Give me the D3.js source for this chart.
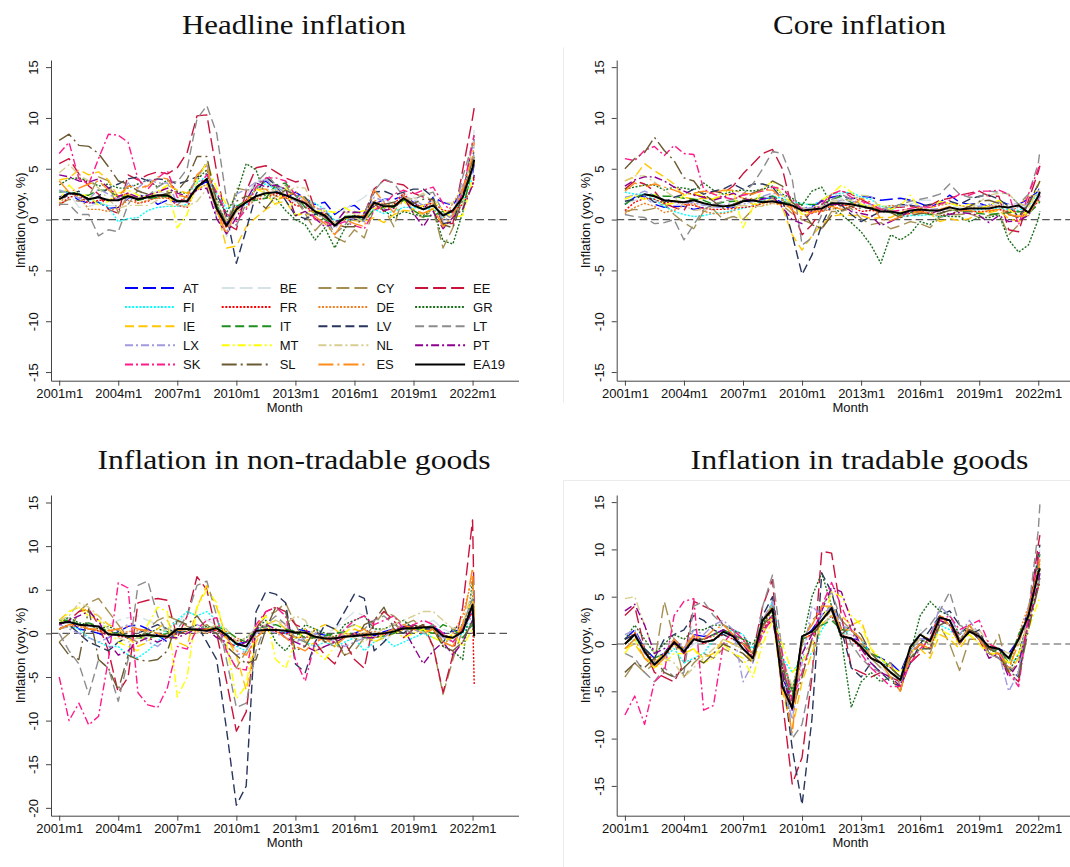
<!DOCTYPE html>
<html>
<head>
<meta charset="utf-8">
<script src="https://cdn.jsdelivr.net/npm/d3@7"></script>
<style>
  body { margin: 0; background: #fff; }
  svg { display: block; }
</style>
</head>
<body>
<svg id="chart" width="1070" height="867"></svg>
<script>
// ---- Categories, styles and time axis ----
const countries = ["AT","BE","CY","EE","FI","FR","DE","GR","IE","IT","LV","LT","LX","MT","NL","PT","SK","SL","ES","EA19"];
const colors = ["#0000ff","#d5e2e8","#a68f52","#c8143c","#00ffff","#ff0000","#ee8020","#1a6e1a","#ffc800","#1f8f1f",
                "#28365e","#8c8c8c","#a09ae0","#ffff00","#d6cd8e","#8e008e","#ff1a8c","#6b5a32","#ff8c1a","#000000"];
const dashes = ["13,5","13,5","13,5","13,5","2,1.6","2,1.6","2,1.6","2,1.6","9,4.5","9,4.5",
                "9,4.5","9,4.5","8,3,2,3","8,3,2,3","8,3,2,3","8,3,2,3","8,3,2,3","15,4,2,4","15,4,2,4",null];
const months = ["2001m1","2001m7","2002m1","2002m7","2003m1","2003m7","2004m1","2004m7","2005m1","2005m7","2006m1","2006m7",
  "2007m1","2007m7","2008m1","2008m7","2009m1","2009m7","2010m1","2010m7","2011m1","2011m7","2012m1","2012m7",
  "2013m1","2013m7","2014m1","2014m7","2015m1","2015m7","2016m1","2016m7","2017m1","2017m7","2018m1","2018m7",
  "2019m1","2019m7","2020m1","2020m7","2021m1","2021m7","2022m1","2022m2"];
const xTickLabels = ["2001m1","2004m1","2007m1","2010m1","2013m1","2016m1","2019m1","2022m1"];

// ---- Headline inflation (yoy, %) ----
const h_AT = [2.2,2.6, 1.9,1.6, 1.7,1.1, 1.2,2.1, 2.4,2.3, 1.5,1.9, 1.7,2.0, 3.1,3.8, 1.2,-0.4, 1.2,1.8, 3.0,3.8, 2.9,2.1, 2.7,2.1, 1.5,1.7, 0.5,1.2, 1.4,0.6, 1.5,2.0, 2.0,2.3, 1.7,1.0, 2.2,1.7, 1.4,2.9, 4.5,5.5];
const h_BE = [2.0,2.6, 1.2,1.3, 1.6,1.4, 1.3,2.2, 2.1,2.5, 2.8,2.5, 1.7,1.3, 3.5,5.9, 1.6,-1.7, 0.8,2.4, 3.7,4.0, 3.3,2.6, 1.5,1.2, 1.1,0.6, -0.5,1.0, 1.6,2.2, 3.1,2.0, 1.6,2.6, 2.2,1.3, 1.4,0.9, 0.6,2.6, 7.5,8.8];
const h_CY = [1.5,2.0, 1.8,2.2, 4.2,3.8, 0.6,2.5, 2.1,2.2, 2.1,2.8, 1.4,2.4, 4.1,5.6, 1.3,-0.8, 3.1,2.9, 3.0,3.8, 3.1,3.4, 2.0,0.6, -1.1,0.0, -1.7,-2.2, -1.0,-1.8, 1.1,1.2, -0.7,2.4, 0.6,0.2, 1.0,-2.8, -0.8,3.1, 5.0,5.8];
const h_EE = [5.5,6.0, 4.5,3.3, 2.5,1.0, 0.6,4.4, 3.9,4.4, 4.7,4.5, 5.1,6.6, 10.2,10.3, 4.7,-0.4, -1.0,2.8, 5.1,5.3, 4.7,4.1, 3.7,3.9, 0.9,0.2, -0.5,0.2, 0.1,0.6, 3.0,3.9, 3.6,3.4, 2.6,2.2, 1.8,-0.4, -0.4,4.9, 10.0,11.0];
const h_FI = [2.9,2.6, 2.6,2.0, 1.7,1.3, -0.2,0.1, 0.2,0.9, 1.2,1.3, 1.3,1.5, 3.6,4.3, 2.5,1.1, 1.4,1.4, 3.2,3.5, 3.0,3.0, 2.4,2.0, 1.6,1.0, -0.1,0.0, 0.0,0.5, 1.0,0.6, 0.8,1.2, 1.2,1.0, 1.1,0.2, 0.9,1.8, 4.1,4.4];
const h_FR = [1.4,2.2, 2.4,1.6, 1.9,1.9, 2.2,2.6, 1.6,1.8, 2.3,2.2, 1.4,1.2, 3.2,4.0, 0.8,-0.8, 1.2,1.9, 2.0,2.1, 2.6,2.2, 1.4,1.2, 0.8,0.6, -0.4,0.2, 0.3,0.4, 1.6,0.8, 1.5,2.6, 1.4,1.3, 1.7,0.9, 0.8,1.5, 3.3,4.2];
const h_DE = [1.6,2.6, 2.3,1.0, 1.0,0.8, 1.2,1.9, 1.6,1.9, 2.1,2.1, 1.8,2.0, 2.9,3.5, 0.9,-0.7, 0.8,1.2, 2.0,2.6, 2.3,2.1, 1.9,1.9, 1.2,0.8, -0.5,0.1, 0.4,0.4, 1.9,1.5, 1.4,2.1, 1.7,1.1, 1.6,0.0, 1.6,3.1, 5.1,5.5];
const h_GR = [3.4,4.0, 4.1,3.8, 3.3,3.5, 3.1,3.1, 3.5,3.9, 3.2,3.9, 2.7,2.6, 3.9,4.9, 2.0,0.7, 2.4,5.5, 4.9,2.1, 2.1,0.9, 0.0,-0.5, -2.0,-0.8, -2.8,-0.9, 0.4,0.2, 1.5,0.9, 0.2,0.8, 0.5,0.4, 1.1,-2.1, -2.4,0.7, 5.5,6.3];
const h_IE = [3.9,4.1, 4.9,4.4, 4.7,3.9, 2.2,2.5, 1.9,2.2, 2.5,3.4, 2.9,2.6, 3.0,3.5, 1.1,-2.8, -2.6,-0.7, 0.2,1.0, 1.6,1.8, 0.4,0.6, 0.3,0.5, -0.5,0.2, -0.1,-0.2, 0.2,-0.3, 0.5,0.9, 0.8,0.5, 1.1,-0.6, -0.1,2.2, 5.0,5.7];
const h_IT = [2.7,2.8, 2.4,2.4, 2.9,2.9, 2.2,2.3, 1.9,2.1, 2.2,2.3, 1.9,1.7, 3.1,4.0, 1.4,-0.1, 1.3,1.8, 1.9,2.1, 3.4,3.6, 2.4,1.2, 0.6,0.0, -0.5,0.3, 0.4,-0.2, 1.0,1.2, 1.2,1.9, 0.9,0.3, 0.4,0.8, 0.7,1.0, 5.1,6.2];
const h_LV = [2.0,2.4, 2.8,1.8, 2.3,3.1, 3.5,4.0, 4.2,3.8, 4.0,3.9, 3.5,3.8, 4.2,4.5, 2.5,0.5, -4.3,-1.0, 2.5,4.2, 3.4,1.9, 0.4,0.1, 0.5,0.8, -0.2,0.0, 0.0,0.1, 2.7,2.8, 2.4,2.7, 3.0,3.0, 2.2,-0.4, -0.2,2.4, 7.4,7.9];
const h_LT = [1.5,1.5, 0.5,0.5, -1.6,-1.0, -1.2,1.5, 2.9,2.3, 3.2,3.8, 3.7,5.0, 9.9,11.2, 8.5,2.0, -0.6,1.6, 3.6,4.6, 3.4,3.0, 2.4,0.7, 0.3,0.4, -1.4,-0.6, 0.8,0.6, 2.8,4.0, 3.6,2.2, 2.0,2.4, 2.7,0.7, 0.0,4.2, 7.5,8.3];
const h_LX = [2.9,2.6, 2.1,2.0, 3.0,2.5, 2.0,3.6, 3.1,4.0, 3.6,3.6, 1.6,1.9, 4.2,5.6, 0.0,-1.3, 2.5,3.0, 3.7,3.9, 3.2,2.7, 1.8,1.8, 1.0,1.1, -0.9,0.3, 0.0,-0.2, 2.2,1.8, 1.3,2.2, 1.9,1.4, 1.9,-0.2, 0.5,3.4, 4.6,7.8];
const h_MT = [1.9,3.4, 2.4,2.4, 1.4,1.8, 2.6,2.9, 2.4,2.2, 2.8,3.4, -0.8,0.5, 3.9,5.6, 3.1,1.5, 1.0,1.6, 3.0,2.6, 1.4,3.2, 0.4,0.8, 0.8,0.9, 0.7,1.2, 0.6,0.9, 1.1,1.2, 1.4,1.8, 1.0,1.4, 1.8,0.9, 0.2,0.4, 4.1,4.2];
const h_NL = [4.6,5.4, 4.4,3.8, 3.1,2.0, 1.1,1.4, 1.4,1.4, 1.9,1.5, 1.4,1.3, 1.8,3.0, 1.9,-0.1, 0.7,1.7, 2.0,3.0, 2.9,2.6, 3.2,3.1, 0.8,0.4, -0.4,0.8, 0.2,-0.2, 1.6,1.5, 1.3,2.1, 2.0,2.6, 1.7,1.7, 1.6,1.4, 7.6,7.3];
const h_PT = [4.4,4.2, 3.8,3.7, 4.0,3.1, 2.3,2.6, 2.2,2.4, 2.7,3.1, 2.6,2.3, 2.9,3.1, 0.1,-1.4, 0.2,1.9, 3.6,3.2, 3.4,3.0, 0.4,0.8, 0.1,-0.7, -0.4,0.8, 0.7,0.7, 1.3,0.9, 1.1,2.2, 0.6,-0.7, 0.8,-0.9, 0.2,1.0, 3.4,4.4];
const h_SK = [6.5,7.6, 4.0,3.5, 6.0,8.4, 8.3,7.6, 4.0,3.0, 4.1,4.8, 2.2,1.7, 3.2,4.4, 2.7,0.6, -0.2,1.0, 3.2,4.1, 4.1,3.8, 2.4,1.6, 0.0,-0.2, -0.6,-0.2, -0.6,-0.9, 0.9,1.5, 2.5,2.9, 2.5,2.9, 3.2,1.6, 0.7,2.6, 7.7,8.3];
const h_SL = [7.8,8.4, 7.3,7.2, 6.5,5.2, 3.8,3.5, 2.8,2.5, 2.3,2.6, 2.8,4.0, 6.2,6.2, 1.7,-0.6, 1.8,2.3, 2.0,1.1, 2.3,2.9, 2.4,2.2, 0.8,0.3, -0.5,-0.7, -0.7,0.3, 1.5,1.5, 1.7,2.1, 1.6,2.0, 2.0,-0.5, -0.8,2.0, 6.0,7.0];
const h_ES = [3.8,2.7, 3.1,3.5, 3.8,2.9, 2.3,3.3, 3.1,3.3, 4.2,4.0, 2.4,2.2, 4.4,5.3, 0.8,-1.4, 1.1,1.8, 3.0,3.0, 2.0,2.2, 2.8,1.9, 0.3,-0.4, -1.5,0.0, -0.4,-0.7, 2.9,1.7, 0.7,2.3, 1.0,0.6, 1.1,-0.7, 0.4,2.9, 6.2,7.6];
const h_EA19 = [2.0,2.6, 2.5,2.0, 2.2,1.9, 1.9,2.3, 2.0,2.2, 2.4,2.4, 1.8,1.8, 3.2,4.0, 1.1,-0.6, 1.0,1.7, 2.3,2.6, 2.7,2.4, 2.0,1.6, 0.8,0.4, -0.6,0.2, 0.3,0.2, 1.7,1.3, 1.3,2.1, 1.4,1.0, 1.4,0.4, 0.9,2.2, 5.1,5.9];

// ---- Core inflation (yoy, %) ----
const c_AT = [1.5,2.2, 2.3,1.5, 1.2,1.3, 1.3,1.0, 1.2,1.3, 1.2,1.2, 1.8,1.8, 2.1,2.1, 1.7,1.6, 1.1,1.3, 1.8,2.2, 2.4,2.0, 2.3,2.2, 1.9,2.0, 2.1,1.9, 1.6,1.2, 1.7,2.4, 1.7,1.5, 1.6,1.3, 1.8,1.5, 1.5,2.0, 2.8,3.2];
const c_BE = [1.6,1.9, 2.2,1.6, 1.5,1.4, 1.7,1.6, 1.4,1.3, 1.2,1.3, 1.6,1.7, 2.0,2.4, 2.0,1.7, 1.2,1.0, 1.4,1.8, 2.1,1.6, 1.4,1.4, 1.3,1.4, 1.3,1.5, 1.9,1.9, 1.7,1.4, 1.2,1.3, 1.4,1.3, 1.6,1.5, 1.5,1.2, 2.6,3.0];
const c_CY = [0.8,1.0, 0.9,1.1, 1.6,0.5, -0.3,-0.9, 0.8,1.0, 0.0,0.3, 0.0,1.0, 1.8,2.1, 1.4,0.6, 0.0,-0.4, -0.9,0.8, 0.8,1.1, 0.1,-0.5, -0.3,-0.9, -0.6,-0.2, -0.4,-0.8, 0.2,0.5, 0.5,0.6, 0.2,0.4, 0.6,-1.5, -0.5,0.8, 2.0,2.5];
const c_EE = [3.0,3.8, 3.5,2.8, 1.6,1.2, 0.9,2.5, 2.2,2.8, 2.6,3.3, 4.5,5.5, 6.5,6.9, 5.0,1.0, -1.5,-0.5, 1.0,2.5, 2.8,2.5, 2.0,1.5, 1.0,1.2, 1.2,1.3, 1.1,1.4, 1.9,2.1, 2.4,2.6, 2.8,2.3, 2.3,-1.0, -1.2,1.9, 4.7,5.3];
const c_FI = [2.7,2.5, 2.5,2.0, 1.3,0.8, 0.5,0.3, 0.4,0.6, 0.7,0.9, 1.1,1.4, 1.9,2.3, 2.1,1.7, 1.6,1.4, 1.9,2.5, 2.6,2.7, 2.2,2.0, 1.3,1.2, 0.3,0.4, 0.4,0.5, 0.3,0.5, 0.9,0.8, 1.0,1.1, 1.1,1.0, 0.9,1.4, 2.6,2.7];
const c_FR = [0.9,1.7, 2.1,2.0, 1.6,1.8, 1.5,1.4, 1.1,1.0, 1.0,1.1, 1.2,1.3, 1.6,1.8, 1.4,1.3, 0.9,0.8, 0.8,1.4, 1.5,1.3, 0.8,0.9, 0.8,0.8, 0.6,0.6, 0.9,0.6, 0.4,0.5, 0.9,0.8, 0.8,0.8, 1.0,0.8, 0.8,0.8, 1.8,2.3];
const c_DE = [0.6,1.2, 1.6,1.3, 0.7,0.9, 1.4,1.6, 0.8,0.6, 0.6,0.8, 1.9,2.1, 1.4,1.6, 1.4,1.2, 0.8,0.7, 0.8,1.0, 1.3,1.5, 1.3,1.2, 1.0,1.4, 1.3,1.4, 1.1,1.2, 1.4,1.6, 1.4,1.2, 1.2,1.3, 1.4,0.5, 1.4,2.3, 2.4,2.8];
const c_GR = [3.0,3.2, 3.4,3.4, 2.9,3.2, 3.1,2.9, 3.6,2.9, 2.5,2.8, 2.9,2.8, 3.0,3.3, 2.5,2.1, 1.4,2.8, 3.2,1.5, 0.5,-0.3, -1.2,-2.5, -4.3,-1.5, -2.0,-1.4, -0.2,-0.5, 0.4,0.3, 0.3,-0.2, 0.2,0.2, 0.5,-2.0, -3.2,-2.5, 0.0,0.8];
const c_IE = [3.8,4.2, 5.5,4.8, 4.2,3.5, 2.2,2.0, 2.1,2.0, 2.4,2.5, 2.1,1.5, 1.5,2.2, 1.2,-1.5, -3.0,-1.6, -0.5,0.3, 0.5,0.4, 0.4,0.1, 0.2,0.2, 0.7,0.9, 0.6,0.6, -0.2,0.1, -0.1,0.1, 0.7,0.7, 0.9,0.1, -0.2,0.8, 2.0,2.2];
const c_IT = [1.5,2.2, 2.5,2.4, 2.3,2.3, 2.1,2.0, 1.9,1.5, 1.7,1.8, 1.9,2.0, 2.2,2.3, 1.8,1.5, 1.5,1.5, 1.5,2.0, 2.3,1.7, 1.4,1.2, 0.9,0.7, 0.4,0.7, 0.7,0.5, 0.6,1.0, 0.8,0.8, 0.6,0.5, 0.6,0.7, 0.8,0.6, 1.5,1.8];
const c_LV = [1.8,2.0, 2.5,1.7, 1.7,2.2, 2.5,3.0, 2.5,2.8, 3.0,3.5, 3.0,3.5, 3.5,3.2, 2.0,-1.5, -5.4,-3.5, -0.5,1.5, 1.4,0.5, -0.2,0.3, 0.8,1.1, 1.5,1.4, 1.3,1.5, 1.6,1.8, 1.5,2.0, 2.3,2.4, 2.0,1.3, 0.3,1.5, 3.5,3.9];
const c_LT = [0.5,0.3, 0.2,-0.4, -0.3,0.0, -2.0,-0.5, 1.0,1.5, 1.8,2.0, 2.5,3.5, 5.0,6.7, 6.5,4.0, -2.5,-1.8, 0.5,2.0, 2.5,2.0, 1.5,1.0, 1.0,1.2, 1.5,1.8, 2.0,2.2, 2.5,3.5, 2.5,2.2, 2.2,2.8, 2.7,2.5, 1.5,2.5, 5.5,6.8];
const c_LX = [2.2,2.4, 2.8,2.4, 1.9,1.8, 1.6,1.7, 1.4,1.5, 1.4,1.6, 1.5,1.8, 2.3,2.6, 2.4,1.7, 1.0,1.2, 1.3,1.6, 1.9,1.8, 1.6,1.5, 1.2,1.0, 1.3,1.5, 1.3,1.0, 1.1,1.0, 1.0,0.9, 1.3,1.5, 1.8,1.0, 1.2,1.6, 2.0,2.3];
const c_MT = [2.0,2.4, 2.0,2.5, 1.5,1.6, 2.4,2.6, 2.3,2.0, 2.8,2.9, -0.8,1.2, 3.0,3.8, 2.4,1.6, 0.5,0.9, 1.9,2.5, 3.4,2.7, 1.5,1.3, 1.5,1.0, 1.4,2.4, 1.0,0.9, 1.8,1.6, 1.3,1.5, 1.1,1.4, 1.9,1.0, 0.4,0.8, 3.5,3.8];
const c_NL = [3.8,4.3, 4.3,3.7, 2.9,2.2, 1.4,0.9, 1.0,1.3, 1.4,1.2, 1.4,1.3, 1.3,1.6, 1.8,1.7, 1.2,0.8, 1.3,1.8, 1.9,1.9, 2.4,2.3, 1.0,0.9, 0.9,1.1, 0.7,0.6, 0.4,1.0, 0.9,1.1, 1.7,2.4, 2.6,2.5, 1.6,1.3, 2.9,3.0];
const c_PT = [3.3,3.9, 4.2,4.2, 3.8,3.2, 2.8,2.4, 2.2,1.9, 2.2,2.6, 2.1,1.8, 2.0,2.3, 1.2,0.0, -0.4,0.9, 1.9,1.5, 1.5,0.8, 0.6,0.4, -0.6,-0.2, 0.3,0.8, 0.8,0.6, 0.9,0.5, 0.7,0.6, 0.4,-0.3, 0.4,-0.2, -0.1,0.4, 2.1,2.4];
const c_SK = [6.0,5.8, 6.8,7.2, 6.3,7.3, 6.5,6.4, 3.0,2.5, 2.2,2.0, 2.4,2.6, 2.8,3.2, 3.0,2.0, 1.0,0.6, 1.5,2.5, 2.9,2.2, 1.8,1.5, 1.0,0.8, 0.9,1.1, 1.3,1.2, 1.5,1.9, 2.5,2.4, 2.8,2.8, 2.9,2.5, -0.5,2.5, 5.0,5.5];
const c_SL = [5.0,6.0, 6.6,8.1, 6.8,5.8, 4.1,3.8, 2.5,1.8, 1.1,1.5, 1.9,2.6, 3.0,3.8, 3.3,1.7, 0.9,-0.5, -0.9,0.4, 0.9,1.3, 1.1,1.2, 0.8,0.7, 0.2,0.4, 0.6,0.7, 0.6,0.9, 0.9,1.3, 1.8,1.9, 1.6,0.5, 0.2,1.5, 3.4,3.8];
const c_ES = [2.8,3.6, 3.2,3.5, 3.2,2.9, 2.5,2.6, 2.8,2.6, 2.9,2.9, 2.6,2.5, 2.9,2.9, 2.0,0.9, 0.2,0.7, 1.0,1.3, 1.0,1.3, 2.1,1.7, 0.0,-0.1, 0.3,0.6, 0.8,0.6, 1.0,1.3, 0.9,0.9, 0.7,0.9, 1.0,0.5, 0.3,0.4, 2.2,3.0];
const c_EA19 = [null,null, 2.5,2.3, 1.9,1.8, 1.7,1.9, 1.6,1.4, 1.3,1.4, 1.8,1.9, 1.7,1.8, 1.6,1.4, 0.9,1.0, 1.1,1.6, 1.6,1.5, 1.3,1.1, 0.8,0.8, 0.6,0.9, 1.0,0.9, 0.9,1.2, 1.0,1.1, 1.1,1.1, 1.3,1.2, 1.4,0.7, 2.3,2.7];

// ---- Inflation in non-tradable goods (yoy, %) ----
const n_AT = [1.0,1.5, 0.5,0.3, 0.0,-0.5, 0.2,0.8, 1.0,0.5, -0.2,-1.0, 0.2,0.5, 0.5,0.3, 0.4,-0.5, -1.2,-1.0, 0.5,0.6, 0.3,0.0, 0.5,0.3, 0.0,-0.2, -0.5,-0.3, 0.0,0.5, -0.3,0.2, 0.5,0.8, 0.9,0.5, 0.8,0.0, 0.2,0.5, 2.5,0.5];
const n_BE = [1.5,1.8, 1.0,0.5, 0.8,1.0, 1.5,1.8, 2.0,1.5, 1.0,0.5, 1.0,2.5, 2.0,1.5, 1.0,-0.5, -2.0,-1.0, 1.0,1.2, 1.0,0.8, 0.0,-0.5, 0.5,0.0, 0.5,1.5, 2.5,2.0, 0.5,-1.0, 0.0,0.5, 0.5,1.0, 1.5,0.5, 0.0,1.0, 4.0,1.0];
const n_CY = [-1.0,0.0, 2.5,3.5, 4.0,2.5, 1.0,-0.5, -1.0,0.5, 1.5,2.0, 1.5,0.8, 0.5,1.0, 0.0,-2.0, -4.0,-2.0, 0.5,2.0, 2.5,3.5, 1.0,-1.0, -2.0,-1.5, -1.0,-2.5, -2.0,-0.5, 1.0,2.5, 2.0,1.0, 1.5,0.5, -1.5,-7.0, -3.0,0.5, 3.0,1.0];
const n_EE = [1.0,1.5, 2.5,2.8, 1.0,-2.0, -6.8,-5.0, 3.5,3.8, 4.0,3.8, -0.5,2.0, 6.5,5.0, 0.0,-5.5, -11.2,-9.0, 0.5,2.5, 3.0,2.5, 1.0,0.5, -1.0,-2.5, -3.5,-1.0, -3.0,-4.0, 1.5,2.5, 1.5,-0.5, 0.5,1.0, -1.5,-6.8, -2.5,3.0, 13.0,3.0];
const n_FI = [0.5,0.8, 0.5,-0.5, -1.0,-1.5, -1.5,-2.5, -2.8,-2.0, -1.0,0.5, 1.5,2.5, 2.0,2.5, 1.5,0.0, -1.5,-2.0, 0.5,0.3, 0.5,0.0, -0.5,-1.0, -1.5,-1.0, -1.5,-1.0, -0.5,-2.0, -1.0,-0.5, -1.5,-1.0, -0.5,0.0, -0.5,-1.0, -0.5,0.0, 1.5,0.0];
const n_FR = [0.5,1.0, 1.0,0.5, 0.3,0.0, -0.3,-0.5, -0.3,-0.2, -0.3,-0.2, 0.0,0.2, 0.5,0.5, 0.3,-0.3, -0.8,-1.0, 0.2,0.3, 0.2,0.0, -0.5,-0.4, -0.5,-0.6, -0.5,-0.3, -0.2,-0.3, -0.5,-0.2, 0.3,0.8, 0.8,0.7, 0.6,-0.2, -0.5,0.5, 2.5,-5.8];
const n_DE = [0.5,0.8, 0.8,0.5, 0.3,-0.2, 0.0,0.2, 0.3,0.3, 0.0,-0.3, 0.5,0.6, 0.2,0.0, 0.5,0.2, -0.5,-1.0, 0.2,0.5, 0.5,0.3, 0.2,0.0, -0.3,-0.5, -0.3,0.0, -0.2,0.0, 0.2,0.0, 0.2,0.5, 0.5,0.8, 0.6,-1.5, 0.0,2.0, 6.5,1.0];
const n_GR = [1.5,1.8, 1.2,1.0, 0.5,0.8, 0.3,-0.5, -0.2,0.0, 0.5,0.2, 0.0,0.3, 0.5,0.8, 0.5,-0.5, -1.0,-0.5, 0.5,1.5, -1.0,-2.0, -0.5,1.0, 0.5,0.0, -0.5,1.0, 1.5,2.0, 0.5,0.5, 1.0,1.5, 0.5,0.5, 1.0,-1.5, -2.0,-3.0, 6.0,2.0];
const n_IE = [1.5,2.5, 3.0,2.5, 2.0,1.0, 0.5,-0.5, -1.5,-1.0, 0.5,1.5, -1.0,-1.5, 3.0,5.5, 3.0,-0.5, -2.5,-6.5, -1.0,1.0, 1.5,0.5, -0.5,-1.0, 0.5,1.0, 0.5,-0.5, 0.5,0.0, -1.0,-0.5, 0.0,0.5, 1.0,0.5, 0.0,-1.0, -0.5,1.0, 4.0,1.5];
const n_IT = [1.5,1.5, 1.0,1.2, 0.8,0.2, 0.0,-0.3, -0.5,-0.5, -0.3,0.0, 0.3,0.3, 0.5,0.6, 0.8,0.3, -0.5,-1.0, 0.5,0.8, 1.0,0.5, 0.2,-0.5, -0.5,-0.3, 0.0,0.2, -0.2,-0.5, -0.5,-0.3, 0.0,0.5, 0.5,0.3, 0.0,1.0, 0.5,-0.5, 1.0,0.5];
const n_LV = [0.5,1.0, 0.0,-1.0, -1.5,-2.0, -1.0,-0.5, 0.0,0.5, 1.0,0.5, 0.0,0.5, 1.0,-1.0, -3.0,-11.0, -19.7,-17.5, 2.5,4.8, 4.5,3.5, -3.5,-4.5, -1.0,1.0, 0.5,2.5, 4.5,4.0, -2.0,-1.0, 0.5,0.0, 1.0,0.5, 0.5,-1.0, 0.5,1.0, 3.0,1.0];
const n_LT = [0.0,-2.0, -3.5,-7.0, -3.0,-4.0, -7.8,-3.0, 5.5,6.0, 2.0,0.0, 0.5,2.0, 5.5,6.0, 2.0,-3.0, -8.5,-8.0, -2.0,1.0, 2.0,1.0, -0.5,-1.0, 0.0,-1.0, -1.5,0.5, 1.0,0.5, 1.5,2.0, 1.0,0.5, 0.0,0.5, 1.0,-1.0, -1.5,1.0, 4.0,2.0];
const n_LX = [1.0,0.5, 0.0,-0.5, -1.0,-0.5, 0.5,1.0, 0.5,-1.0, -1.5,-0.5, 0.0,0.5, 1.0,0.5, 0.0,-1.5, -2.5,-2.0, 0.0,0.5, 0.0,-0.5, -1.0,-0.5, 0.0,-0.5, -1.0,-1.5, -1.0,-0.5, 0.0,-0.5, 0.5,1.0, 0.5,0.0, 0.5,-0.5, -1.0,0.5, 2.0,0.5];
const n_MT = [1.0,2.5, 3.0,2.0, 1.5,0.5, -1.0,-1.5, -2.0,1.0, 3.0,2.5, -7.3,-5.0, 3.0,5.0, 3.5,-1.0, -7.5,-6.0, 1.0,2.0, -3.0,-4.0, -1.0,0.5, -2.0,-3.0, -1.5,0.0, 1.0,0.5, -1.0,0.0, 0.5,-0.5, 0.0,0.5, -0.5,-1.0, 0.0,-1.5, 0.5,0.0];
const n_NL = [1.5,2.0, 3.5,3.0, 2.0,0.5, -0.5,-1.0, -0.5,-0.3, 0.0,0.5, 0.5,0.3, 0.0,0.5, 1.0,0.5, -1.0,-0.5, 0.5,1.0, 1.5,1.0, 2.0,1.5, -0.5,-1.0, -0.5,0.0, -0.5,-1.0, 0.0,0.5, 1.0,1.5, 2.0,2.5, 2.5,1.5, 0.5,1.0, 5.0,2.0];
const n_PT = [1.0,1.5, 2.0,2.5, 1.5,-1.0, -2.5,-2.0, -1.0,-0.5, -1.0,-0.5, -0.5,0.0, 0.5,0.5, -0.5,-1.0, -1.5,-1.0, 0.5,1.0, 0.5,-0.5, -1.0,-1.5, -2.0,-1.5, -1.0,-0.5, 0.0,-0.5, -0.5,0.0, 0.5,0.5, -1.5,-3.5, -2.0,-1.0, -2.5,-1.0, 1.5,0.5];
const n_SK = [-5.0,-10.0, -8.0,-10.5, -9.5,-3.0, 5.8,5.2, -6.8,-8.2, -8.5,-6.2, -1.5,-1.8, 0.5,1.5, 1.8,-2.0, -4.0,-4.2, 1.0,2.5, 3.0,2.0, -3.0,-5.5, -1.0,-0.5, -1.0,0.5, 1.5,2.0, 1.0,1.5, 2.0,0.5, 1.0,1.5, 1.0,0.0, -1.0,0.5, 3.0,1.0];
const n_SL = [-1.0,-2.5, -3.0,2.8, -3.0,-4.0, -6.5,-2.5, -3.0,-3.2, -3.0,-2.0, 1.5,1.0, 2.0,0.5, 0.0,-1.5, -2.5,-3.5, -3.0,0.5, 3.0,2.5, -2.0,-1.5, 0.5,-1.0, -0.5,-2.5, -1.0,1.0, 1.5,3.0, 0.5,0.0, 0.5,1.0, 0.5,-1.5, -2.0,-1.0, 1.5,-0.5];
const n_ES = [0.5,1.0, 1.0,0.5, 0.5,0.3, 0.5,0.8, 0.5,0.3, 0.0,-0.5, 0.3,0.5, 0.3,0.5, 0.5,-0.5, -2.0,-2.5, -0.5,0.5, 0.3,-0.5, -1.5,-2.0, -1.0,-0.5, -1.5,-0.5, 0.0,0.5, -0.5,0.0, 0.5,1.0, 0.5,0.0, 0.5,-1.0, -1.5,1.0, 7.5,2.0];
const n_EA19 = [1.2,1.3, 1.0,0.9, 0.8,-0.1, -0.2,-0.3, -0.3,-0.2, -0.3,-0.4, 0.5,0.5, 0.4,0.3, 0.6,-0.2, -1.2,-1.5, 0.3,0.4, 0.4,0.3, 0.1,0.1, -0.4,-0.6, -0.6,-0.4, -0.3,-0.2, -0.1,0.0, 0.2,0.6, 0.6,0.7, 0.7,-0.3, -0.5,0.2, 3.3,-0.3];

// ---- Inflation in tradable goods (yoy, %) ----
const t_AT = [0.5,1.5, -0.5,-1.5, -1.0,0.5, -0.5,1.0, 0.8,1.0, 1.5,1.0, 0.0,-1.0, 2.0,3.0, -3.5,-6.0, 0.5,1.5, 3.0,4.0, 1.0,0.5, 0.5,-1.0, -1.5,-2.0, -3.0,-0.5, 0.5,0.5, 2.5,2.5, 0.5,1.5, 1.0,-0.5, -0.5,-1.0, 0.5,3.5, 7.0,7.8];
const t_BE = [-0.5,0.5, -1.0,-2.5, -1.0,0.5, -1.0,0.0, 0.5,1.0, 2.0,1.5, -0.5,-1.5, 2.5,4.5, -4.0,-8.0, 0.0,1.0, 3.0,3.5, 1.0,1.0, -0.5,-2.0, -2.5,-3.5, -4.0,-0.5, 1.5,1.0, 3.0,2.0, 0.5,2.0, 1.0,-0.5, -1.0,-3.0, -4.5,2.0, 9.0,10.0];
const t_CY = [-3.5,-2.0, -3.0,-2.0, 4.5,0.5, -3.5,-2.0, -1.0,-1.5, -0.5,-1.0, -2.0,-1.5, 1.5,4.5, -2.0,-5.0, 0.0,2.5, 3.5,4.0, 2.5,1.5, 0.5,-1.5, -2.5,-2.0, -4.5,-1.5, 0.0,-1.0, 2.0,0.0, -2.8,0.5, 0.5,-1.0, 1.0,-3.0, -2.0,2.0, 6.0,7.0];
const t_EE = [3.0,4.0, -0.5,-3.0, -3.5,-4.0, -2.0,4.5, 4.0,3.5, 2.0,1.5, 1.0,-1.0, 4.0,6.8, -6.0,-14.8, -12.0,-3.5, 9.8,9.6, 3.0,-2.5, -3.0,-3.5, -3.0,-3.5, -4.0,-2.0, -1.0,1.0, 3.0,2.0, 1.0,1.5, 1.0,-1.0, -1.5,-3.0, -4.0,3.0, 10.5,11.5];
const t_FI = [-0.5,0.5, -0.5,-2.0, -1.5,-0.5, -2.0,-1.5, -1.0,0.5, 1.0,1.5, 1.0,-0.5, 2.0,4.5, -1.5,-3.0, -1.5,-1.0, 1.5,3.0, 1.0,1.5, 0.5,-1.0, -1.5,-3.0, -3.5,-1.5, -0.5,-0.5, 2.0,1.5, 0.5,1.5, 0.5,-0.5, -1.0,-2.0, -1.5,2.5, 6.5,7.5];
const t_FR = [0.0,1.2, -0.5,-2.0, -1.0,0.3, -0.5,0.8, 0.0,0.5, 1.0,0.5, 0.0,-1.0, 1.5,3.0, -2.5,-6.0, 0.5,1.0, 2.0,3.0, 1.0,0.5, -0.5,-1.5, -2.0,-2.5, -3.5,-0.5, 0.5,0.0, 2.5,2.0, 0.5,1.5, 0.5,-0.5, -0.5,-1.5, 0.5,2.5, 6.0,6.5];
const t_DE = [0.5,1.2, -0.5,-2.5, -1.5,0.0, -0.5,0.8, 0.5,0.8, 1.5,1.0, 0.5,-1.5, 2.0,3.5, -4.5,-6.5, 0.5,1.0, 2.5,3.5, 1.0,0.5, 0.0,-1.5, -2.0,-3.0, -4.0,-0.5, 1.0,0.5, 3.0,2.5, 0.5,1.5, 1.0,-0.5, -1.0,-3.0, 1.0,4.0, 7.5,8.5];
const t_GR = [0.5,2.0, 0.5,-1.0, 0.0,1.0, 0.5,1.5, 1.5,2.0, 2.0,1.5, 0.5,0.0, 2.0,4.0, -1.5,-5.0, 0.0,5.0, 7.5,4.0, 0.5,-6.7, -4.0,-3.0, -4.0,-3.5, -5.0,-1.0, 3.0,4.5, 3.5,3.0, 1.0,2.0, 0.5,-0.5, -0.5,-3.0, -1.0,2.5, 8.0,9.0];
const t_IE = [-0.5,0.0, -1.5,-2.0, -1.0,0.0, -1.0,-0.5, -1.5,-1.0, 0.5,0.0, -0.5,-2.0, 1.0,3.0, -5.0,-9.0, -4.0,-1.0, 2.0,3.0, 3.0,2.0, 2.5,-0.5, -2.0,-3.0, -4.0,-1.5, -0.5,-1.5, 1.0,0.5, -0.5,1.0, 0.0,-1.0, -1.5,-3.0, -1.5,2.5, 7.0,8.0];
const t_IT = [0.0,0.8, -0.5,-1.5, -1.0,0.0, -0.5,0.5, 0.5,1.0, 1.5,1.0, 0.5,-1.0, 2.5,3.5, -3.0,-5.5, 0.5,1.0, 2.0,2.5, 1.5,1.5, 0.0,-1.0, -1.5,-2.5, -3.5,-0.5, 0.5,0.0, 2.5,2.0, 0.0,1.5, 0.5,-1.0, -0.5,-2.0, 1.0,3.0, 8.5,9.5];
const t_LV = [0.5,1.0, -0.5,-1.5, 0.5,1.0, 1.5,3.0, 2.5,1.5, 1.0,0.5, 0.0,-1.0, 3.0,5.0, -3.0,-11.0, -17.0,-8.0, 7.5,5.5, 1.5,-2.5, -3.5,-2.0, -3.0,-4.0, -4.5,-2.0, 0.0,1.5, 3.0,3.5, 2.0,1.0, 1.5,-1.0, -1.5,-2.5, -3.5,2.5, 9.5,10.5];
const t_LT = [-1.0,-1.5, -3.0,-4.0, -2.5,-3.5, -3.0,4.0, 4.5,3.0, 2.0,1.5, -1.0,-2.0, 4.0,7.3, -1.0,-10.0, -8.5,-3.0, 4.0,5.5, 2.5,0.0, -1.5,-2.5, -3.0,-3.5, -4.0,-1.0, 1.0,2.0, 3.5,5.5, 2.0,1.5, 0.5,-1.0, -1.5,-2.5, -3.0,3.5, 12.0,14.8];
const t_LX = [1.0,1.5, -1.0,-2.0, -1.5,0.5, -0.5,1.5, 1.0,2.0, 2.5,1.5, -4.0,-2.0, 2.5,4.5, -4.0,-8.0, -2.0,4.0, 3.0,4.0, 2.0,1.5, 0.0,-1.5, -2.0,-3.0, -4.0,-1.0, 0.5,0.5, 4.0,3.0, 1.0,2.5, 1.0,-1.5, -1.0,-5.0, -3.0,4.0, 6.5,8.0];
const t_MT = [-1.0,0.5, -1.5,-2.5, -2.0,-1.0, -1.0,-0.5, -2.0,-1.5, 0.0,-1.0, -1.5,-3.5, 0.0,2.5, 0.0,-3.0, -2.0,0.0, 2.0,5.5, 5.0,3.0, 2.0,-0.5, -1.5,-2.5, -3.0,-1.0, 0.0,-0.5, 1.5,1.0, 0.0,1.0, 0.0,-1.0, -1.0,-2.0, -1.0,1.5, 4.5,5.0];
const t_NL = [4.8,5.0, 2.0,-1.0, -1.5,-2.0, -3.5,-2.5, -1.5,-0.5, 0.5,0.0, -0.5,-1.5, 1.5,2.5, -1.5,-4.5, -1.0,0.0, 2.0,3.0, 1.5,1.5, 0.5,-1.0, -2.0,-3.0, -3.5,-0.5, 0.5,0.0, 2.5,2.0, 0.5,1.5, 1.5,0.0, -0.5,-1.0, 0.0,2.0, 7.0,8.0];
const t_PT = [3.5,4.2, 2.0,-1.0, -0.5,0.0, -1.0,0.5, 0.5,1.0, 1.5,1.0, 0.0,-1.5, 1.5,2.5, -3.0,-7.0, -1.0,1.0, 3.5,6.0, 5.5,2.5, -0.5,-2.0, -3.0,-3.5, -4.5,-1.0, 0.0,-0.5, 2.5,2.0, 0.0,1.5, 0.5,-1.5, -1.0,-3.5, -2.0,2.0, 6.5,7.5];
const t_SK = [-7.5,-5.5, -8.5,-4.0, -3.0,3.0, 4.5,4.8, -7.0,-6.5, 0.0,1.5, 0.5,-1.5, 1.0,3.0, -1.0,-6.0, -3.0,0.5, 4.0,6.5, 4.0,1.5, -1.0,-2.5, -3.5,-4.5, -4.5,-2.0, -0.5,0.5, 2.5,3.0, 1.5,2.0, 2.5,0.0, -0.5,-3.0, -4.5,3.0, 9.0,10.0];
const t_SL = [-3.0,-2.0, -2.5,-1.5, -3.0,-3.5, -2.5,-1.5, -2.0,-1.0, 0.0,-0.5, -1.0,-2.0, 2.0,3.0, -2.0,-7.0, -3.5,0.5, 2.5,3.5, 1.0,2.0, 1.0,-1.0, -2.0,-2.5, -3.5,-1.5, -0.5,-0.5, 2.0,2.5, 0.5,1.5, 1.0,-0.5, -1.0,-3.0, -3.5,1.5, 6.0,7.0];
const t_ES = [-0.5,0.5, -1.5,-2.5, -1.5,0.5, -0.5,1.0, 0.5,1.5, 2.0,1.0, 0.0,-1.0, 2.5,4.0, -4.0,-9.4, 0.5,2.0, 4.0,4.0, 1.5,1.5, 0.5,-1.5, -2.0,-3.5, -5.0,-1.0, 0.0,-0.5, 3.0,2.0, 0.0,2.0, 0.5,-1.0, -1.0,-2.5, 0.0,3.5, 8.0,9.0];
const t_EA19 = [0.0,1.0, -0.8,-2.2, -1.2,0.2, -0.8,0.5, 0.2,0.4, 1.3,0.8, -0.5,-1.5, 2.5,3.7, -4.5,-6.8, 0.8,1.3, 2.5,3.8, 0.8,0.6, -0.3,-1.5, -2.0,-3.0, -3.8,-0.3, 1.0,0.3, 2.8,2.5, 0.2,1.3, 0.8,-0.3, -0.5,-1.5, 0.5,3.0, 7.5,8.0];

// Series tables, in legend order
const headlineSeries = [h_AT,h_BE,h_CY,h_EE,h_FI,h_FR,h_DE,h_GR,h_IE,h_IT,h_LV,h_LT,h_LX,h_MT,h_NL,h_PT,h_SK,h_SL,h_ES,h_EA19];
const coreSeries     = [c_AT,c_BE,c_CY,c_EE,c_FI,c_FR,c_DE,c_GR,c_IE,c_IT,c_LV,c_LT,c_LX,c_MT,c_NL,c_PT,c_SK,c_SL,c_ES,c_EA19];
const nonTradSeries  = [n_AT,n_BE,n_CY,n_EE,n_FI,n_FR,n_DE,n_GR,n_IE,n_IT,n_LV,n_LT,n_LX,n_MT,n_NL,n_PT,n_SK,n_SL,n_ES,n_EA19];
const tradSeries     = [t_AT,t_BE,t_CY,t_EE,t_FI,t_FR,t_DE,t_GR,t_IE,t_IT,t_LV,t_LT,t_LX,t_MT,t_NL,t_PT,t_SK,t_SL,t_ES,t_EA19];

// ---- Drawing ----
const SANS = '"Liberation Sans", Arial, Helvetica, sans-serif';
const SERIF = '"Liberation Serif", "Times New Roman", serif';
const svg = d3.select("#chart");
const monthIndex = s => { const [yy, mm] = s.split("m").map(Number); return (yy - 2001) * 12 + (mm - 1); };
const tIdx = months.map(monthIndex);
const xTickVals = xTickLabels.map(monthIndex);

// light frames of the right-hand graph regions
const frame = svg.append("g").attr("stroke", "#ebebeb").attr("stroke-width", 1).attr("fill", "none");
frame.append("path").attr("d", "M563.5,47.5 V402.5");
frame.append("path").attr("d", "M563.5,480.5 V867 M563.5,480.5 H1070");

const panels = [
  { title: "Headline inflation", titleW: 224, series: headlineSeries, left: 51, top: 60, bottom: 380.7,
    yDomain: [-15.85, 15.7], yTicks: [-15,-10,-5,0,5,10,15], titleX: 294, titleY: 34, legend: true },
  { title: "Core inflation", titleW: 173, series: coreSeries, left: 616.7, top: 60, bottom: 380.7,
    yDomain: [-15.85, 15.7], yTicks: [-15,-10,-5,0,5,10,15], titleX: 859.5, titleY: 34 },
  { title: "Inflation in non-tradable goods", titleW: 393, series: nonTradSeries, left: 51, top: 495, bottom: 815.7,
    yDomain: [-20.9, 15.86], yTicks: [-20,-15,-10,-5,0,5,10,15], titleX: 294, titleY: 469 },
  { title: "Inflation in tradable goods", titleW: 338, series: tradSeries, left: 616.7, top: 495, bottom: 815.7,
    yDomain: [-18.15, 15.75], yTicks: [-15,-10,-5,0,5,10,15], titleX: 859.5, titleY: 469 }
];

panels.forEach(drawPanel);

function drawPanel(p) {
  const x = d3.scaleLinear().domain([-5, 280]).range([p.left, p.left + 467.5]);
  const y = d3.scaleLinear().domain(p.yDomain).range([p.bottom, p.top]);
  const g = svg.append("g");

  g.append("text")
    .attr("x", p.titleX).attr("y", p.titleY)
    .attr("text-anchor", "middle")
    .attr("textLength", p.titleW).attr("lengthAdjust", "spacingAndGlyphs")
    .style("font-family", SERIF).style("font-size", "28px").attr("fill", "#111")
    .text(p.title);

  // reference line at zero
  g.append("line")
    .attr("x1", x(-5)).attr("x2", x(274.5)).attr("y1", y(0)).attr("y2", y(0))
    .attr("stroke", "#555").attr("stroke-width", 1.1).attr("stroke-dasharray", "7.5,4");

  const line = d3.line()
    .defined(d => d[1] != null)
    .x(d => x(d[0])).y(d => y(d[1]));

  p.series.forEach((vals, i) => {
    g.append("path")
      .datum(vals.map((v, k) => [tIdx[k], v]))
      .attr("d", line)
      .attr("fill", "none")
      .attr("stroke", colors[i])
      .attr("stroke-width", i === 19 ? 2 : 1.4)
      .attr("stroke-dasharray", dashes[i])
      .attr("stroke-linejoin", "round");
  });

  // x axis
  const xa = g.append("g").attr("transform", `translate(0,${p.bottom})`)
    .call(d3.axisBottom(x).tickValues(xTickVals).tickFormat((d, i) => xTickLabels[i]).tickSize(5).tickSizeOuter(0));
  // y axis
  const ya = g.append("g").attr("transform", `translate(${p.left},0)`)
    .call(d3.axisLeft(y).tickValues(p.yTicks).tickFormat(d => String(d)).tickSize(5).tickSizeOuter(0));
  ya.selectAll(".tick text")
    .attr("x", 0).attr("y", 0).attr("dy", "0")
    .attr("text-anchor", "middle")
    .attr("transform", "translate(-12.8,0) rotate(-90)");
  [xa, ya].forEach(a => {
    a.select(".domain").attr("stroke", "#444");
    a.selectAll(".tick line").attr("stroke", "#444");
    a.selectAll(".tick text").attr("fill", "#111").style("font-family", SANS).style("font-size", "13px");
  });

  // axis titles
  g.append("text")
    .attr("transform", `translate(${p.left - 26.5},${(p.top + p.bottom) / 2}) rotate(-90)`)
    .attr("text-anchor", "middle")
    .style("font-family", SANS).style("font-size", "13px").attr("fill", "#111")
    .text("Inflation (yoy, %)");
  g.append("text")
    .attr("x", (x.range()[0] + x.range()[1]) / 2).attr("y", p.bottom + 31.5)
    .attr("text-anchor", "middle")
    .style("font-family", SANS).style("font-size", "13px").attr("fill", "#111")
    .text("Month");

  if (p.legend) {
    const lg = g.append("g");
    countries.forEach((c, i) => {
      const col = i % 4, row = Math.floor(i / 4);
      const lx = 125 + col * 96.7, ly = 288 + row * 19.1;
      lg.append("line")
        .attr("x1", lx).attr("x2", lx + 50).attr("y1", ly).attr("y2", ly)
        .attr("stroke", colors[i]).attr("stroke-width", 2)
        .attr("stroke-dasharray", dashes[i]);
      lg.append("text")
        .attr("x", lx + 58).attr("y", ly).attr("dy", "0.36em")
        .style("font-family", SANS).style("font-size", "13px").attr("fill", "#111")
        .text(c);
    });
  }
}
</script>
</body>
</html>
